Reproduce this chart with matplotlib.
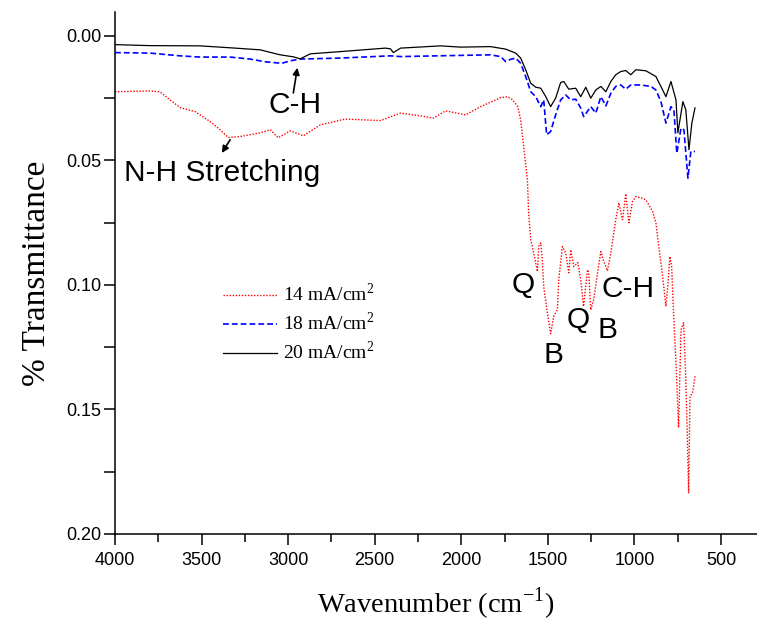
import matplotlib
matplotlib.use("Agg")
import matplotlib.pyplot as plt
from matplotlib.ticker import MultipleLocator, FormatStrFormatter

# FTIR spectra (wavenumber in cm^-1, absorbance-style transmittance axis)
wn_14 = [4000, 3798, 3740, 3682, 3624, 3537, 3450, 3393, 3346, 3277, 3161, 3103,
         3057, 2988, 2912, 2814, 2669, 2467, 2351, 2236, 2160, 2091, 1975, 1888,
         1773, 1732, 1703, 1674, 1657, 1640, 1618, 1611, 1599, 1589, 1582, 1560,
         1553, 1541, 1532, 1524, 1503, 1484, 1466, 1445, 1437, 1416, 1397, 1379,
         1368, 1350, 1327, 1310, 1294, 1271, 1264, 1252, 1235, 1213, 1194, 1177,
         1156, 1136, 1108, 1090, 1069, 1050, 1032, 1011, 992, 963, 934, 895, 876,
         859, 837, 818, 809, 795, 785, 774, 760, 745, 731, 716, 703, 693, 687,
         679, 664, 650]
t_14 = [0.0224, 0.0221, 0.0225, 0.0257, 0.0288, 0.0304, 0.0344, 0.0377, 0.0408,
        0.0404, 0.0389, 0.0377, 0.0409, 0.0381, 0.0401, 0.0357, 0.0334, 0.0340,
        0.0310, 0.0321, 0.0330, 0.0301, 0.0317, 0.0284, 0.0248, 0.0244, 0.0257,
        0.0284, 0.0337, 0.0444, 0.0578, 0.0710, 0.0819, 0.0846, 0.0871, 0.0946,
        0.0846, 0.0831, 0.0899, 0.1006, 0.1112, 0.1196, 0.1126, 0.1100, 0.0979,
        0.0846, 0.0871, 0.0951, 0.0859, 0.0926, 0.0910, 0.0979, 0.1086, 0.0939,
        0.0951, 0.1100, 0.1059, 0.0951, 0.0866, 0.0906, 0.0943, 0.0871, 0.0738,
        0.0670, 0.0738, 0.0634, 0.0750, 0.0665, 0.0645, 0.0650, 0.0658, 0.0705,
        0.0750, 0.0846, 0.0966, 0.1086, 0.1019, 0.0886, 0.0926, 0.1112, 0.1312,
        0.1573, 0.1180, 0.1152, 0.1380, 0.1648, 0.1834, 0.1447, 0.1433, 0.1367]

wn_18 = [4000, 3798, 3624, 3508, 3335, 3219, 3132, 3036, 2988, 2930, 2698, 2409,
         2351, 2062, 1831, 1773, 1744, 1715, 1686, 1657, 1628, 1599, 1570, 1541,
         1524, 1507, 1484, 1455, 1426, 1397, 1368, 1339, 1310, 1293, 1252, 1223,
         1194, 1165, 1136, 1108, 1079, 1050, 1021, 963, 905, 876, 847, 818, 789,
         772, 755, 731, 714, 691, 674, 650]
t_18 = [0.0067, 0.0069, 0.0080, 0.0085, 0.0085, 0.0093, 0.0104, 0.0110, 0.0100,
        0.0093, 0.0089, 0.0080, 0.0083, 0.0079, 0.0076, 0.0083, 0.0103, 0.0094,
        0.0089, 0.0110, 0.0163, 0.0224, 0.0244, 0.0284, 0.0257, 0.0397, 0.0384,
        0.0317, 0.0257, 0.0237, 0.0257, 0.0254, 0.0290, 0.0324, 0.0284, 0.0310,
        0.0244, 0.0281, 0.0230, 0.0203, 0.0197, 0.0214, 0.0197, 0.0197, 0.0203,
        0.0217, 0.0264, 0.0350, 0.0284, 0.0297, 0.0471, 0.0370, 0.0377, 0.0571,
        0.0464, 0.0464]

wn_20 = [4000, 3798, 3508, 3306, 3161, 3046, 2970, 2930, 2907, 2872, 2698, 2438,
         2409, 2392, 2351, 2120, 2004, 1831, 1744, 1686, 1657, 1628, 1599, 1570,
         1541, 1512, 1484, 1455, 1426, 1408, 1379, 1339, 1310, 1281, 1252, 1223,
         1194, 1165, 1136, 1108, 1079, 1050, 1021, 992, 934, 876, 847, 818, 789,
         760, 749, 720, 703, 685, 668, 650]
t_20 = [0.0035, 0.0039, 0.0040, 0.0049, 0.0056, 0.0076, 0.0084, 0.0092, 0.0084,
        0.0072, 0.0063, 0.0049, 0.0052, 0.0067, 0.0049, 0.0040, 0.0045, 0.0043,
        0.0053, 0.0069, 0.0089, 0.0136, 0.0190, 0.0206, 0.0210, 0.0244, 0.0284,
        0.0250, 0.0187, 0.0183, 0.0214, 0.0210, 0.0244, 0.0206, 0.0250, 0.0217,
        0.0203, 0.0224, 0.0183, 0.0156, 0.0143, 0.0139, 0.0156, 0.0136, 0.0140,
        0.0163, 0.0203, 0.0244, 0.0183, 0.0257, 0.0389, 0.0264, 0.0297, 0.0457,
        0.0349, 0.0289]

labels = ["14 mA/cm$^2$", "18 mA/cm$^2$", "20 mA/cm$^2$"]

serif = ["Liberation Serif", "DejaVu Serif"]
sans = ["Liberation Sans", "DejaVu Sans"]
narrow = ["Liberation Sans Narrow", "Liberation Sans", "DejaVu Sans"]
plt.rcParams["mathtext.fontset"] = "custom"
plt.rcParams["mathtext.rm"] = "Liberation Serif"

fig = plt.figure(figsize=(7.57, 6.23), dpi=100)
ax = fig.add_axes([115 / 757, 89 / 623, 642 / 757, 522 / 623])

ax.plot(wn_14, t_14, color="red", lw=1.0, ls=(0, (1, 1.2)), label=labels[0])
ax.plot(wn_18, t_18, color="blue", lw=1.2, ls=(0, (3.5, 1.8)), label=labels[1])
ax.plot(wn_20, t_20, color="black", lw=0.9, ls="-", label=labels[2])

ax.set_xlim(4000, 292)
ax.set_ylim(0.20, -0.0096)

for s in ("top", "right"):
    ax.spines[s].set_visible(False)
for s in ("left", "bottom"):
    ax.spines[s].set_linewidth(1.1)

ax.xaxis.set_major_locator(MultipleLocator(500))
ax.xaxis.set_minor_locator(MultipleLocator(250))
ax.yaxis.set_major_locator(MultipleLocator(0.05))
ax.yaxis.set_minor_locator(MultipleLocator(0.025))
ax.xaxis.set_major_formatter(FormatStrFormatter("%d"))
ax.yaxis.set_major_formatter(FormatStrFormatter("%.2f"))
ax.tick_params(axis="x", which="major", direction="out", length=8, width=1.1, pad=5)
ax.tick_params(axis="x", which="minor", direction="out", length=6, width=1.1)
ax.tick_params(axis="y", which="both", direction="out", length=8, width=1.1, pad=2)
for lab in ax.get_xticklabels() + ax.get_yticklabels():
    lab.set_family(narrow)
    lab.set_fontsize(13)

ax.set_xlabel("Wavenumber (cm$^{-1}$)", family=serif, fontsize=20.5, labelpad=12)
ax.set_ylabel("% Transmittance", family=serif, fontsize=24, labelpad=10)

ax.legend(loc="upper left", bbox_to_anchor=(0.168, 0.481), frameon=False,
          prop={"family": serif, "size": 14}, handlelength=2.8,
          handletextpad=0.3, labelspacing=0.33, borderpad=0, borderaxespad=0)

# band assignments
ann = dict(family=sans, fontsize=21.5, ha="center", va="center")
ax.annotate("", xy=(2947, 0.0128), xytext=(2970, 0.0229),
            arrowprops=dict(arrowstyle="-|>", color="black", lw=1.2,
                            mutation_scale=10, shrinkA=0, shrinkB=0))
ax.text(2959, 0.0277, "C-H", **ann)
ax.annotate("", xy=(3383, 0.0470), xytext=(3335, 0.0417),
            arrowprops=dict(arrowstyle="-|>", color="black", lw=1.2,
                            mutation_scale=10, shrinkA=0, shrinkB=0))
ax.text(3381, 0.0552, "N-H Stretching", **ann)
ax.text(1640, 0.0999, "Q", **ann)
ax.text(1466, 0.1280, "B", **ann)
ax.text(1327, 0.1140, "Q", **ann)
ax.text(1154, 0.1180, "B", **ann)
ax.text(1038, 0.1015, "C-H", **ann)

fig.savefig("out.png", dpi=100)
